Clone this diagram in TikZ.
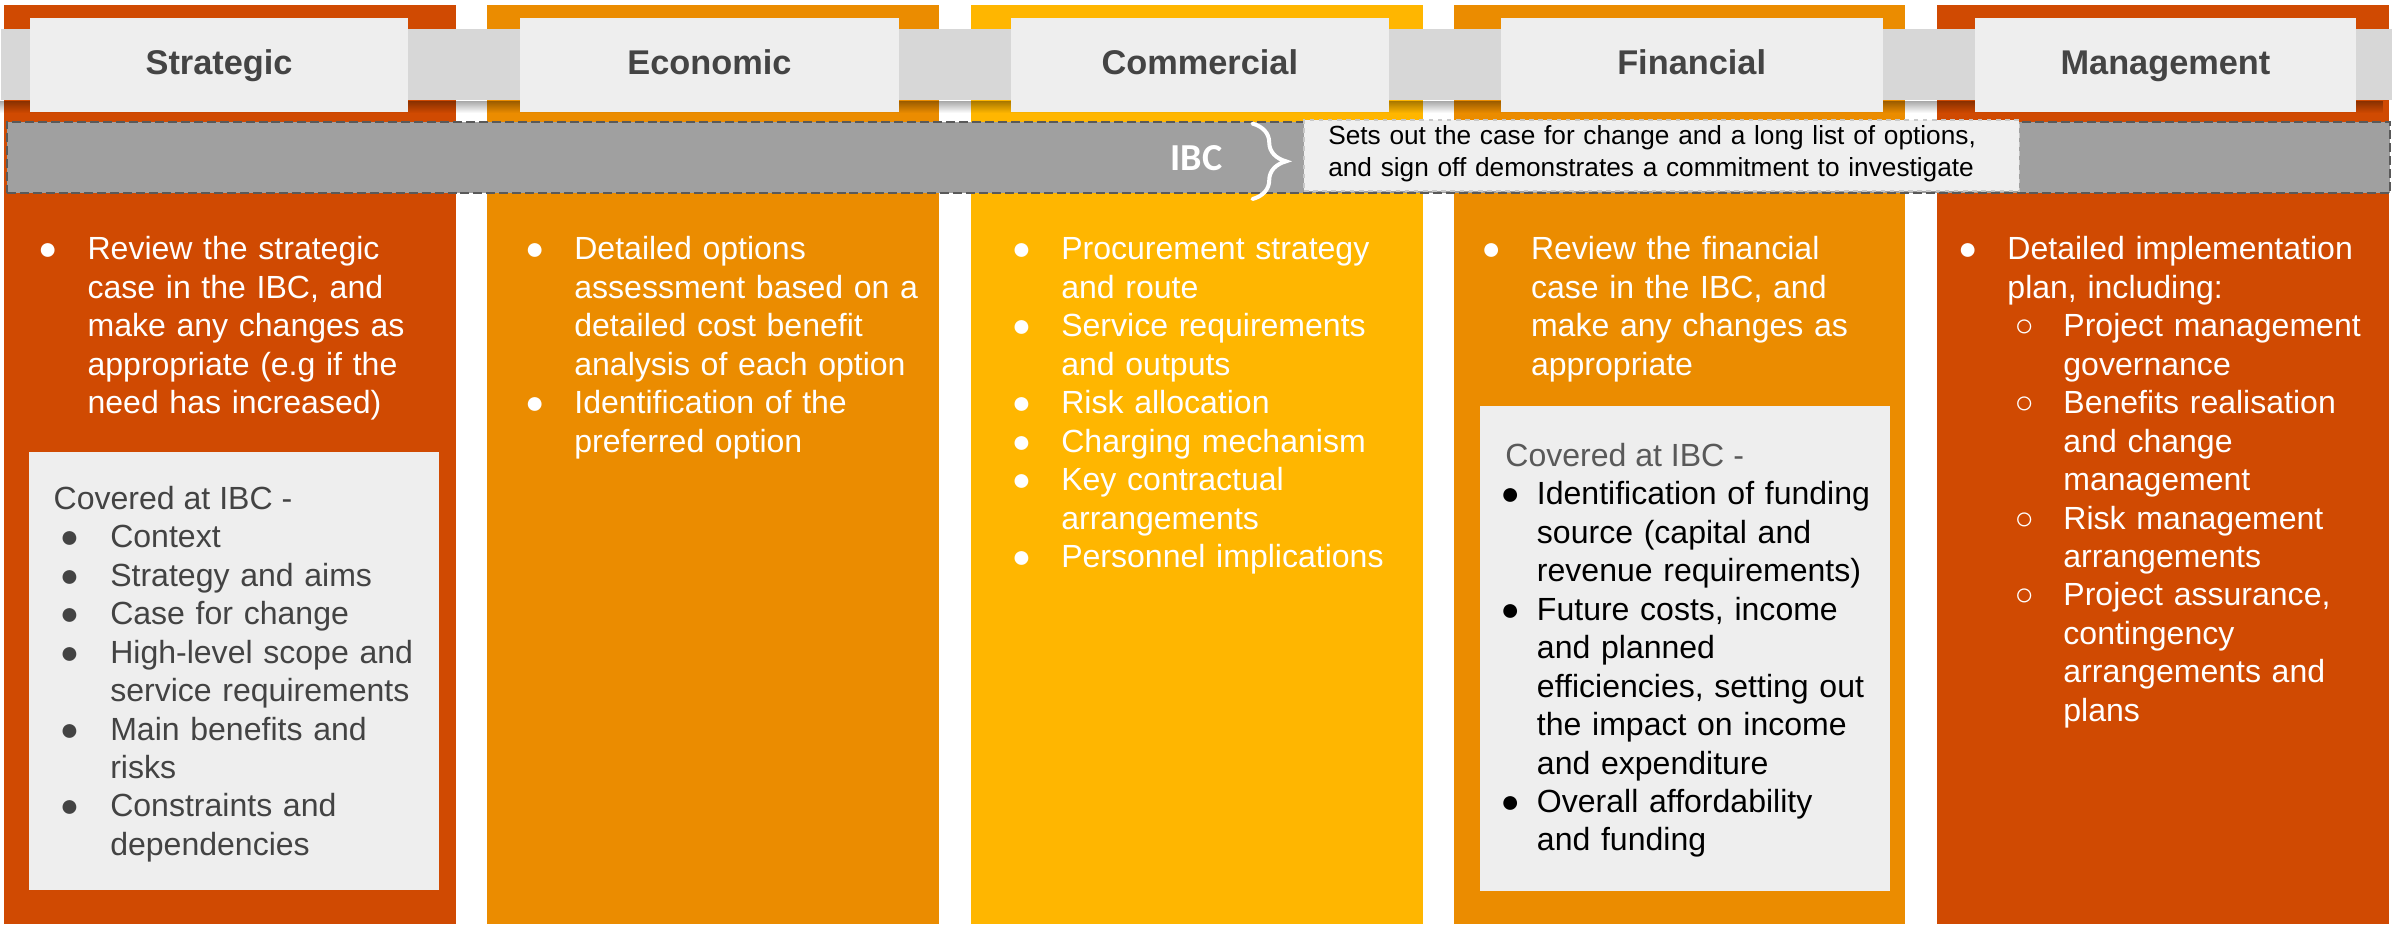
\documentclass[tikz,border=0pt]{standalone}
\usepackage{fontspec}
\setmainfont{Liberation Sans}
\newfontfamily\ibcfont{Carlito}
\usetikzlibrary{decorations.pathreplacing,fadings}

\definecolor{pwcred}{HTML}{D04A02}
\definecolor{pwcorange}{HTML}{EB8C00}
\definecolor{pwcyellow}{HTML}{FFB600}
\definecolor{stripfill}{HTML}{D7D7D7}
\definecolor{headfill}{HTML}{EEEEEE}
\definecolor{headtext}{HTML}{444444}
\definecolor{bandfill}{HTML}{A0A0A0}
\definecolor{bandline}{HTML}{595959}
\definecolor{notefill}{HTML}{EFEFEF}
\definecolor{noteline}{HTML}{C8C8C8}
\definecolor{boxfill}{HTML}{EEEEEE}
\definecolor{boxtext}{HTML}{434343}
\definecolor{covtext}{HTML}{595959}

\newcommand{\dotglyph}{{\fontsize{21}{21}\selectfont ●}}
\newcommand{\ringglyph}{{\fontsize{21}{21}\selectfont ○}}
\newcommand{\dotitem}[1][26pt]{\leavevmode\llap{\makebox[0pt]{\dotglyph}\hspace{#1}}}
\newcommand{\ringitem}{\leavevmode\llap{\makebox[0pt]{\ringglyph}\hspace{25.6pt}}}

\begin{document}
\begin{tikzpicture}[x=1pt, y=-1pt,
    col/.style={inner sep=0pt, outer sep=0pt, anchor=north west,
        minimum width=296pt, minimum height=602.7pt},
    headbox/.style={fill=headfill, inner sep=0pt, minimum width=248pt,
        minimum height=61.6pt, text=headtext, text height=16pt, text depth=3pt,
        font=\fontsize{22.5}{27}\selectfont\bfseries},
    graybox/.style={fill=boxfill, inner sep=0pt, anchor=north west},
    body/.style={anchor=base west, inner sep=0pt, text width=300pt,
        align=left, text=white, font=\fontsize{21}{25.2}\selectfont},
    covlabel/.style={anchor=base west, inner sep=0pt,
        font=\fontsize{21}{25.2}\selectfont}]

    \fill[white] (0,0) rectangle (1568,606);
    \useasboundingbox (0,0) rectangle (1568,606);

    \node[col, fill=pwcred] (strat) at (2.6,3.3) {};
    \node[col, fill=pwcorange] (econ) at (319.5,3.3) {};
    \node[col, fill=pwcyellow] (comm) at (636.5,3.3) {};
    \node[col, fill=pwcorange] (fin) at (953,3.3) {};
    \node[col, fill=pwcred] (mgmt) at (1270,3.3) {};

    \node[fill=stripfill, inner sep=0pt, minimum width=1567.3pt,
        minimum height=46.6pt, anchor=north west] (strip) at (0.7,19) {};
    \fill[black, opacity=0.35, path fading=south]
        (strip.south west) rectangle ([yshift=-8pt]strip.south east);

    \node[headbox] (strathead) at (143.6,42.6) {Strategic};
    \node[headbox] (econhead) at (465,42.6) {Economic};
    \node[headbox] (commhead) at (786.5,42.6) {Commercial};
    \node[headbox, minimum width=250.3pt] (finhead) at (1108.9,42.6) {Financial};
    \node[headbox, minimum width=250pt] (mgmthead) at (1419.5,42.6) {Management};

    \node[fill=bandfill, draw=bandline, line width=1.3pt,
        dash pattern=on 5.9pt off 2.6pt, inner sep=0pt, anchor=north west,
        minimum width=1562.3pt, minimum height=46.9pt] (ibcband) at (3.7,79.1) {};
    \node[fill=notefill, draw=noteline, line width=0.8pt, dashed,
        inner sep=0pt, anchor=north west, minimum width=469pt,
        minimum height=46.6pt] (ibcnote) at (854.4,78.2) {};

    \node[anchor=base east, inner sep=0pt, text=white,
        font=\ibcfont\bfseries\fontsize{25}{30}\selectfont] (ibc) at (801.5,111.9) {IBC};
    \coordinate (bracetop) at (821,81);
    \coordinate (bracebot) at (821,130.5);
    \draw[white, line width=2.6pt, line cap=round, decorate,
        decoration={brace, amplitude=22pt}] (bracetop) -- (bracebot);

    \node[anchor=base west, inner sep=0pt, text width=460pt, align=left,
        font=\fontsize{17.2}{20.7}\selectfont] (ibcnotetext) at (870.5,95)
        {Sets out the case for change and a long list of options,\\
         and sign off demonstrates a commitment to investigate};

    \node[body] (stratbody) at (57.2,170.4)
        {\dotitem Review the strategic\\case in the IBC, and\\make any changes as\\
         appropriate (e.g if the\\need has increased)};

    \node[graybox, minimum width=268.8pt, minimum height=287pt] (stratcover) at (19,296) {};
    \node[covlabel, text=boxtext] (stratcovlabel) at (35,333.9) {Covered at IBC -};
    \node[body, text=boxtext] (stratcovlist) at (72.1,359.1)
        {\dotitem[26.7pt]Context\\\dotitem[26.7pt]Strategy and aims\\
         \dotitem[26.7pt]Case for change\\\dotitem[26.7pt]High-level scope and\\
         service requirements\\\dotitem[26.7pt]Main benefits and\\risks\\
         \dotitem[26.7pt]Constraints and\\dependencies};

    \node[body] (econbody) at (376.3,170.4)
        {\dotitem Detailed options\\assessment based on a\\detailed cost benefit\\
         analysis of each option\\\dotitem Identification of the\\preferred option};

    \node[body] (commbody) at (695.5,170.4)
        {\dotitem Procurement strategy\\and route\\\dotitem Service requirements\\
         and outputs\\\dotitem Risk allocation\\\dotitem Charging mechanism\\
         \dotitem Key contractual\\arrangements\\\dotitem Personnel implications};

    \node[body] (finbody) at (1003.4,170.4)
        {\dotitem Review the financial\\case in the IBC, and\\make any changes as\\
         appropriate};

    \node[graybox, minimum width=269pt, minimum height=317.7pt] (fincover) at (970,266) {};
    \node[covlabel, text=covtext] (fincovlabel) at (986.6,306) {Covered at IBC -};
    \node[body, text=black] (fincovlist) at (1007.3,331)
        {\dotitem[17.5pt]Identification of funding\\source (capital and\\
         revenue requirements)\\\dotitem[17.5pt]Future costs, income\\and planned\\
         efficiencies, setting out\\the impact on income\\and expenditure\\
         \dotitem[17.5pt]Overall affordability\\and funding};

    \node[body] (mgmtbody) at (1315.7,170.4)
        {\dotitem Detailed implementation\\plan, including:\\
         \hspace*{36.7pt}\ringitem Project management\\\hspace*{36.7pt}governance\\
         \hspace*{36.7pt}\ringitem Benefits realisation\\\hspace*{36.7pt}and change\\
         \hspace*{36.7pt}management\\
         \hspace*{36.7pt}\ringitem Risk management\\\hspace*{36.7pt}arrangements\\
         \hspace*{36.7pt}\ringitem Project assurance,\\\hspace*{36.7pt}contingency\\
         \hspace*{36.7pt}arrangements and\\\hspace*{36.7pt}plans};
\end{tikzpicture}
\end{document}
